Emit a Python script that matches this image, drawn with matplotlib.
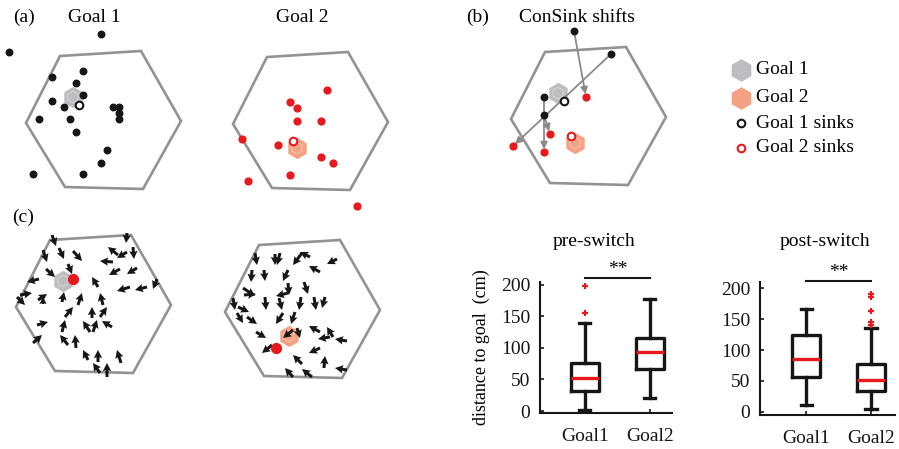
import matplotlib
matplotlib.use("Agg")
import matplotlib.pyplot as plt
from matplotlib.patches import Polygon
import numpy as np

plt.rcParams['font.family'] = ['Liberation Serif', 'DejaVu Serif']

W, H = 899, 449

# arena outline (px, y down, relative to arena centre)
hex_x = [-43, 38, 78, 40, -38, -77]
hex_y = [-65, -70, 0, 68, 66, 2]

# goal locations
goal1 = (-30, -24)
goal2 = (-13, 26)

# (a) Goal 1 consinks
g1_sink_x = [-2, -94, -20, -51, -27, -20, -51, -39, 10, 16, 16, 16, -64, -33, -27, 4, -2, -70, -20]
g1_sink_y = [-87, -69, -50, -44, -38, -26, -20, -14, -14, -14, -8, -2, -2, -2, 11, 29, 42, 53, 53]
g1_mean = (-24, -16)

# (a) Goal 2 consinks
g2_sink_x = [17, -20, -13, -13, 11, -68, -32, 11, 23, -20, -62, 47]
g2_sink_y = [-32, -20, -14, -1, -1, 17, 23, 35, 41, 53, 59, 84]
g2_mean = (-17, 19)

# (b) shifts: pre (goal 1) -> post (goal 2)
shift_x0 = [-14, 23, -44, -44]
shift_y0 = [-86, -63, -20, -2]
shift_x1 = [-2, -75, -44, -38]
shift_y1 = [-20, 29, 35, 17]

# (c) goal 1 vector field (tail -> head)
c1_x0 = [-41, 34, -34, -50, -20, 25, 34, 40, 20, 27, 44, -25, -47, -54, 5, 64, 54, 37, -73, -76, -55, -50,
         -31, -15, 10, -28, -1, 7, -56, -31, -3, 0, 19, -60, -25, -17, -5, 5, 28, 7, 14]
c1_y0 = [-70, -72, -57, -55, -54, -50, -53, -58, -43, -36, -37, -41, -36, -26, -18, -26, -18, -18, -10, -8, -5, -1,
         -3, 0, 0, 12, 13, 12, 20, 27, 27, 27, 22, 38, 40, 43, 55, 57, 58, 68, 72]
c1_x1 = [-37, 33, -29, -46, -11, 15, 24, 41, 7, 16, 34, -21, -38, -66, -1, 60, 42, 24, -61, -68, -46, -50,
         -29, -11, 7, -20, -1, 14, -45, -28, -10, 4, 9, -51, -33, -18, -10, 5, 24, 0, 14]
c1_y1 = [-59, -62, -46, -43, -44, -58, -47, -46, -44, -30, -31, -31, -28, -23, -28, -16, -15, -14, -12, 0, -11, -8,
         -13, -12, -12, 2, 2, 2, 17, 15, 16, 15, 16, 30, 30, 30, 45, 45, 45, 58, 58]
c1_sink = (-20, -26)

# (c) goal 2 vector field (tail -> head)
c2_x0 = [-47, -22, -27, 0, 8, 35, 18, -50, -38, -14, -59, -58, -14, -14, 2, -69, -64, -37, -23, -1, 12, 23,
         -65, -55, -19, -7, -46, -9, -5, 18, 31, 28, 45, -30, 18, 0, 22, -9, 10, 45]
c2_y0 = [-57, -57, -56, -57, -53, -51, -38, -40, -40, -40, -22, -15, -27, -17, -28, -12, -3, -13, -12, -13, -13, -13,
         3, 7, 3, 2, 22, 20, 18, 22, 27, 27, 31, 35, 38, 54, 58, 67, 67, 60]
c2_x1 = [-45, -25, -27, -9, -2, 25, 7, -51, -37, -19, -47, -46, -13, -26, 6, -67, -53, -36, -20, -3, 14, 20,
         -59, -45, -26, -11, -36, -19, -2, 7, 25, 16, 33, -40, 7, -9, 23, -17, 0, 33]
c2_y1 = [-45, -45, -45, -45, -58, -46, -44, -28, -29, -29, -14, -16, -15, -14, -16, 0, 2, 0, 0, 0, 0, -2,
         13, 14, 14, 14, 28, 28, 28, 16, 17, 29, 29, 43, 43, 45, 46, 58, 59, 58]
c2_sink = (-26, 38)

# boxplot summaries (cm)
pre_stats = [
    dict(med=52, q1=32, q3=76, whislo=2, whishi=140, fliers=[155, 197]),
    dict(med=93, q1=67, q3=116, whislo=20, whishi=177, fliers=[]),
]
post_stats = [
    dict(med=85, q1=56, q3=125, whislo=11, whishi=166, fliers=[]),
    dict(med=51, q1=34, q3=77, whislo=5, whishi=136, fliers=[141, 146, 163, 186, 190]),
]
box_labels = ['Goal1', 'Goal2']

GRAY = '#939393'
G1C = '#bdbdbf'
G2C = '#f4a283'
RED = '#e8191c'
BLK = '#161616'

fig = plt.figure(figsize=(W / 100, H / 100), dpi=100)

bg = fig.add_axes([0, 0, 1, 1])
bg.set_xlim(0, W)
bg.set_ylim(H, 0)
bg.axis('off')


def arena(cx, cy):
    ax = fig.add_axes([(cx - 100) / W, 1 - (cy + 100) / H, 200 / W, 200 / H])
    ax.set_xlim(-100, 100)
    ax.set_ylim(100, -100)
    ax.axis('off')
    ax.add_patch(Polygon(np.column_stack([hex_x, hex_y]), closed=True, fill=False,
                         edgecolor=GRAY, lw=1.9, zorder=1))
    return ax


def goal_marker(ax, pos, color, s=200):
    ax.scatter(*pos, marker='h', s=s, color=color, zorder=2, clip_on=False)
    ax.scatter(*pos, marker='h', s=s * 0.35, facecolor='none', edgecolor='white',
               lw=0.5, alpha=0.5, zorder=2, clip_on=False)


def field(ax, x0, y0, x1, y1):
    x0, y0, x1, y1 = map(np.asarray, (x0, y0, x1, y1))
    ax.quiver(x0, y0, x1 - x0, y1 - y0, angles='xy', scale_units='xy', scale=1,
              units='dots', width=3.0, headwidth=2.8, headlength=2.7, headaxislength=2.4,
              color=BLK, zorder=4)


# (a) goal 1
ax = arena(103, 121)
goal_marker(ax, goal1, G1C)
ax.scatter(g1_sink_x, g1_sink_y, s=22, color=BLK, zorder=3, clip_on=False)
ax.scatter(*g1_mean, s=30, facecolor='white', edgecolor=BLK, lw=1.5, zorder=4)

# (a) goal 2
ax = arena(310, 122)
goal_marker(ax, goal2, G2C)
ax.scatter(g2_sink_x, g2_sink_y, s=24, color=RED, zorder=3, clip_on=False)
ax.scatter(*g2_mean, s=30, facecolor='white', edgecolor=RED, lw=1.5, zorder=4)

# (b) consink shifts
ax = arena(588, 117)
goal_marker(ax, goal1, G1C)
goal_marker(ax, goal2, G2C)
for xa, ya, xb, yb in zip(shift_x0, shift_y0, shift_x1, shift_y1):
    ax.annotate('', xy=(xb, yb), xytext=(xa, ya),
                arrowprops=dict(arrowstyle='-|>', color='#8a8a8a', lw=1.3,
                                mutation_scale=10, shrinkA=0, shrinkB=2), zorder=2)
ax.scatter(shift_x0, shift_y0, s=22, color=BLK, zorder=3, clip_on=False)
ax.scatter(shift_x1, shift_y1, s=24, color=RED, zorder=3, clip_on=False)
ax.scatter(*g1_mean, s=30, facecolor='white', edgecolor=BLK, lw=1.5, zorder=4)
ax.scatter(*g2_mean, s=30, facecolor='white', edgecolor=RED, lw=1.5, zorder=4)

# (c) vector fields
ax = arena(93, 305)
goal_marker(ax, goal1, G1C)
field(ax, c1_x0, c1_y0, c1_x1, c1_y1)
ax.scatter(*c1_sink, s=50, color=RED, zorder=5)

ax = arena(302, 310)
goal_marker(ax, goal2, G2C)
field(ax, c2_x0, c2_y0, c2_x1, c2_y1)
ax.scatter(*c2_sink, s=50, color=RED, zorder=5)

# panel texts
fs = 14
bg.text(24, 17, '(a)', fontsize=fs, ha='center', va='center')
bg.text(94, 17, 'Goal 1', fontsize=fs, ha='center', va='center')
bg.text(302, 17, 'Goal 2', fontsize=fs, ha='center', va='center')
bg.text(478, 17, '(b)', fontsize=fs, ha='center', va='center')
bg.text(577, 17, 'ConSink shifts', fontsize=fs, ha='center', va='center')
bg.text(23, 217, '(c)', fontsize=fs, ha='center', va='center')

# legend
bg.scatter([741], [70], marker='h', s=230, color=G1C)
bg.scatter([741], [98], marker='h', s=230, color=G2C)
bg.scatter([741], [123], s=30, facecolor='white', edgecolor=BLK, lw=1.5)
bg.scatter([741], [148], s=30, facecolor='white', edgecolor=RED, lw=1.5)
for yy, lab in zip([70, 98, 123, 147], ['Goal 1', 'Goal 2', 'Goal 1 sinks', 'Goal 2 sinks']):
    bg.text(756, yy, lab, fontsize=fs, ha='left', va='center')


def box_axes(rect, stats, ylim, xlim, title, title_x, ylabel=None):
    ax = fig.add_axes(rect)
    ax.bxp(stats, positions=[1, 2], widths=0.42, capwidths=0.17,
           boxprops=dict(color=BLK, lw=2.4),
           whiskerprops=dict(color=BLK, lw=2.4),
           capprops=dict(color=BLK, lw=2.4),
           medianprops=dict(color=RED, lw=2.4),
           flierprops=dict(marker='+', markeredgecolor=RED, markersize=5, mew=1.6))
    ax.set_xlim(*xlim)
    ax.set_ylim(*ylim)
    ax.set_yticks([0, 50, 100, 150, 200])
    ax.set_xticks([1, 2])
    ax.set_xticklabels(box_labels)
    for s in ['top', 'right']:
        ax.spines[s].set_visible(False)
    for s in ['left', 'bottom']:
        ax.spines[s].set_linewidth(1.5)
        ax.spines[s].set_color(BLK)
    ax.tick_params(direction='in', length=3, width=1.2, labelsize=fs, colors=BLK, pad=7)
    ax.tick_params(axis='x', pad=11)
    ax.patch.set_alpha(0)
    ax.plot([1, 2], [211, 211], color=BLK, lw=1.5, clip_on=False)
    ax.text(1.5, 211, '**', fontsize=fs, ha='center', va='bottom')
    ax.set_title(title, fontsize=fs, x=title_x, pad=26)
    if ylabel:
        ax.set_ylabel(ylabel, fontsize=13, labelpad=8)
    return ax


box_axes([540 / W, (H - 413) / H, 132 / W, 131 / H], pre_stats, (-3, 204), (0.31, 2.34),
         'pre-switch', 0.41, 'distance to goal  (cm)')
box_axes([760 / W, (H - 415) / H, 135 / W, 133 / H], post_stats, (-5, 210), (0.29, 2.37),
         'post-switch', 0.48)

fig.savefig('out.png', dpi=100)
